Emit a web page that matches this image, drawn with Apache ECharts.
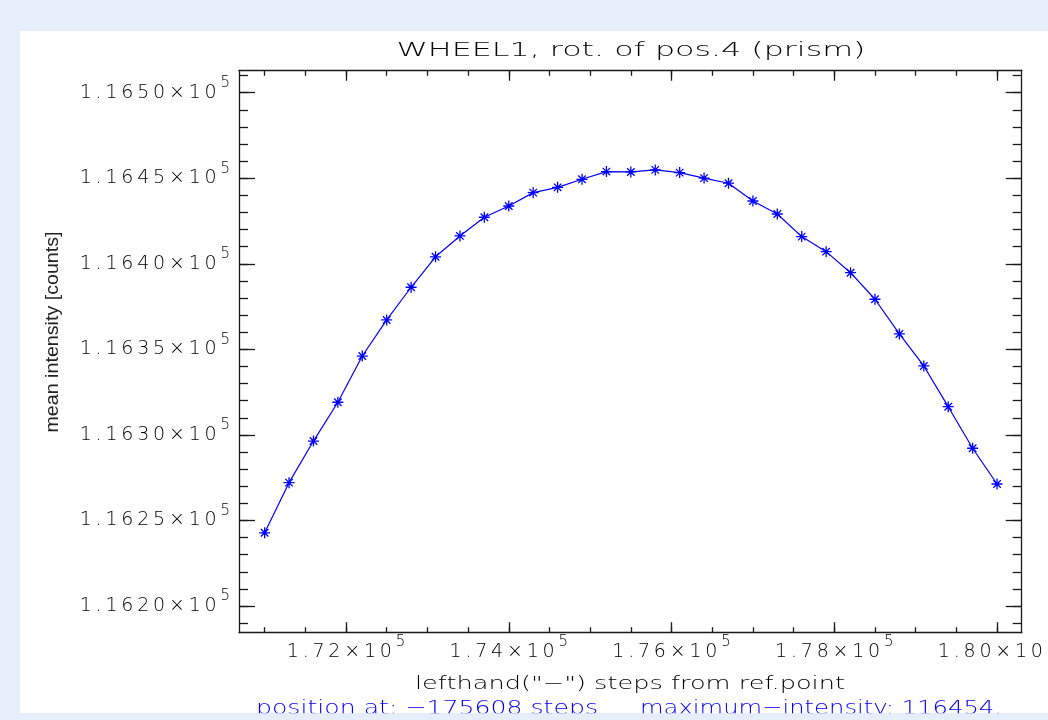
<!DOCTYPE html>
<html>
<head>
<meta charset="utf-8">
<script src="https://cdn.jsdelivr.net/npm/echarts@6/dist/echarts.min.js"></script>
<style>
  html, body { margin: 0; padding: 0; background: #e6eefc; }
  #chart { width: 1048px; height: 720px; }
</style>
</head>
<body>
<div id="chart"></div>
<script>
// Rotation scan of wheel 1, position 4 (prism): mean intensity per step position
const steps = [171000, 171300, 171600, 171900, 172200, 172500, 172800, 173100, 173400, 173700,
               174000, 174300, 174600, 174900, 175200, 175500, 175800, 176100, 176400, 176700,
               177000, 177300, 177600, 177900, 178200, 178500, 178800, 179100, 179400, 179700,
               180000];
const intensity = [116242.8, 116272.1, 116296.4, 116319.1, 116346.1, 116367.2, 116386.3, 116404.1, 116416.3, 116427.2,
                   116433.8, 116441.6, 116444.7, 116449.4, 116453.9, 116453.7, 116454.9, 116453.3, 116450.1, 116447.1,
                   116436.7, 116429.1, 116415.9, 116407.1, 116394.8, 116379.3, 116359.0, 116340.3, 116316.5, 116292.2,
                   116271.3];

// Axis ticks
const xMajorTicks = [172000, 174000, 176000, 178000, 180000];
const xMinorTicks = [171000, 171500, 172000, 172500, 173000, 173500, 174000, 174500, 175000, 175500,
                     176000, 176500, 177000, 177500, 178000, 178500, 179000, 179500, 180000];
const yMajorTicks = [116200, 116250, 116300, 116350, 116400, 116450, 116500];
const yMinorTicks = [116190, 116200, 116210, 116220, 116230, 116240, 116250, 116260, 116270, 116280,
                     116290, 116300, 116310, 116320, 116330, 116340, 116350, 116360, 116370, 116380,
                     116390, 116400, 116410, 116420, 116430, 116440, 116450, 116460, 116470, 116480,
                     116490, 116500, 116510];
const xRange = [170685, 180303];
const yRange = [116184.4, 116513.1];

// Texts
const titleText = 'WHEEL1, rot. of pos.4 (prism)';
const xName = 'lefthand("\u2212") steps from ref.point';
const yName = 'mean intensity [counts]';
const peakStep = -175608;
const peakIntensity = 116454;

const BLUE = '#0000ff';
const INK = '#000000';
const AXIS_COLOR = '#1a1a1a';
const FONT = "'DejaVu Sans'";
const THIN = '\u2009';

const chart = echarts.init(document.getElementById('chart'), null, { renderer: 'canvas' });

// text width helper for stretching the plot captions horizontally
const measureCtx = document.createElement('canvas').getContext('2d');
function stretch(text, font, width) {
  measureCtx.font = font;
  return width / measureCtx.measureText(text).width;
}

function sci(digits) {
  return function (v) {
    const mant = (v / 1e5).toFixed(digits) + '\u00d710';
    return '{m|' + mant.split('').join(THIN) + THIN + '}{e|5}';
  };
}
const labelRich = {
  m: { fontFamily: FONT, fontSize: 19, lineHeight: 20, color: INK, fontWeight: 200 },
  e: { fontFamily: FONT, fontSize: 15, lineHeight: 16, color: INK, fontWeight: 200, padding: [0, 0, 19, 0] }
};

const axisLineStyle = { color: AXIS_COLOR, width: 1.3 };

function xAxisDef(position, ticks, len, withLine, withLabels) {
  return {
    type: 'value', position: position, min: xRange[0], max: xRange[1],
    axisLine: { show: withLine, onZero: false, lineStyle: axisLineStyle },
    axisTick: { show: true, inside: true, length: len, customValues: ticks, lineStyle: axisLineStyle },
    axisLabel: withLabels
      ? { show: true, customValues: ticks, formatter: sci(2), rich: labelRich, margin: 9 }
      : { show: false },
    splitLine: { show: false }
  };
}
function yAxisDef(position, ticks, len, withLine, withLabels) {
  return {
    type: 'value', position: position, min: yRange[0], max: yRange[1],
    axisLine: { show: withLine, onZero: false, lineStyle: axisLineStyle },
    axisTick: { show: true, inside: true, length: len, customValues: ticks, lineStyle: axisLineStyle },
    axisLabel: withLabels
      ? { show: true, customValues: ticks, formatter: sci(4), rich: labelRich, margin: 9 }
      : { show: false },
    splitLine: { show: false }
  };
}

const titleFont = '200 20px ' + FONT;
const nameFont = '200 18px ' + FONT;
const yNameFont = '19px ' + "'Liberation Sans'";
const infoFont = '200 20px ' + FONT;
const infoLeft = 'position at: ' + '\u2212' + Math.abs(peakStep) + ' steps';
const infoRight = 'maximum\u2212intensity: ' + peakIntensity + '.';

const starPath = 'path://M5,0L5,10M0,5L10,5M1.6,1.6L8.4,8.4M1.6,8.4L8.4,1.6';

chart.setOption({
  backgroundColor: '#e6eefc',
  animation: false,
  grid: { left: 239, right: 26.3, top: 70.3, bottom: 87.3, outerBoundsMode: 'none', containLabel: false },
  xAxis: [
    xAxisDef('bottom', xMajorTicks, 10.5, true, true),
    xAxisDef('top', xMajorTicks, 10.5, true, false),
    xAxisDef('bottom', xMinorTicks, 5.5, false, false),
    xAxisDef('top', xMinorTicks, 5.5, false, false)
  ],
  yAxis: [
    yAxisDef('left', yMajorTicks, 16, true, true),
    yAxisDef('right', yMajorTicks, 16, true, false),
    yAxisDef('left', yMinorTicks, 9, false, false),
    yAxisDef('right', yMinorTicks, 9, false, false)
  ],
  graphic: [
    { type: 'rect', z: -100, silent: true, shape: { x: 20, y: 31, width: 1028, height: 682 }, style: { fill: '#ffffff' } },
    { type: 'text', x: 631, y: 51, scaleX: stretch(titleText, titleFont, 469),
      style: { text: titleText, font: titleFont, fill: INK, align: 'center', verticalAlign: 'middle' } },
    { type: 'text', x: 630, y: 684, scaleX: stretch(xName, nameFont, 430),
      style: { text: xName, font: nameFont, fill: INK, align: 'center', verticalAlign: 'middle' } },
    { type: 'text', x: 53, y: 332, rotation: Math.PI / 2, scaleX: stretch(yName, yNameFont, 201),
      style: { text: yName, font: yNameFont, fill: '#222222', align: 'center', verticalAlign: 'middle' } },
    { type: 'text', x: 256, y: 708.5, scaleX: stretch(infoLeft, infoFont, 342),
      style: { text: infoLeft, font: infoFont, fill: BLUE, align: 'left', verticalAlign: 'middle' } },
    { type: 'text', x: 640, y: 708.5, scaleX: stretch(infoRight, infoFont, 362),
      style: { text: infoRight, font: infoFont, fill: BLUE, align: 'left', verticalAlign: 'middle' } },
    { type: 'rect', z: 100, silent: true, shape: { x: 0, y: 713.3, width: 1048, height: 7 }, style: { fill: '#e6eefc' } }
  ],
  series: [{
    type: 'line',
    xAxisIndex: 0,
    yAxisIndex: 0,
    data: steps.map(function (s, i) { return [s, intensity[i]]; }),
    showAllSymbol: true,
    symbol: starPath,
    symbolSize: 11,
    clip: false,
    lineStyle: { color: BLUE, width: 1.2 },
    itemStyle: { color: BLUE, borderColor: BLUE, borderWidth: 1.3 },
    emphasis: { disabled: true }
  }]
});
</script>
</body>
</html>
